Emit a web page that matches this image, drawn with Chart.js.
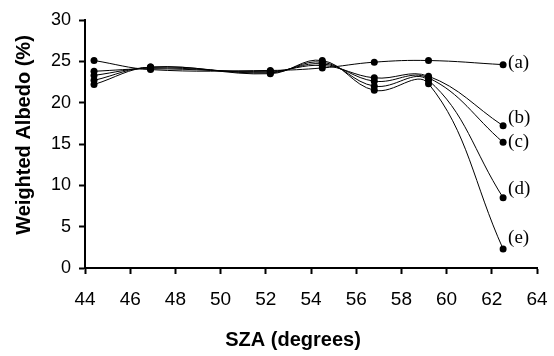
<!DOCTYPE html>
<html>
<head>
<meta charset="utf-8">
<title>Weighted Albedo vs SZA</title>
<script src="https://cdn.jsdelivr.net/npm/chart.js@4/dist/chart.umd.min.js"></script>
<style>
  html, body { margin: 0; padding: 0; background: #fff; }
  #wrap { width: 554px; height: 356px; }
</style>
</head>
<body>
<div id="wrap"><canvas id="chart" width="554" height="356"></canvas></div>
<script>
// SZA values (degrees)
const sza = [44.4, 46.9, 52.2, 54.5, 56.8, 59.2, 62.5];

// weighted albedo (%) for each case
const albedoA = [25.1, 24.0, 23.9, 24.2, 24.9, 25.1, 24.6];
const albedoB = [23.8, 24.1, 23.8, 24.5, 23.0, 23.2, 17.2];
const albedoC = [23.3, 24.2, 23.7, 24.7, 22.6, 23.0, 15.2];
const albedoD = [22.7, 24.3, 23.6, 24.9, 22.0, 22.7, 8.5];
const albedoE = [22.2, 24.3, 23.5, 25.1, 21.5, 22.3, 2.3];

const seriesLabels = ["(a)", "(b)", "(c)", "(d)", "(e)"];
const xTicks = [44, 46, 48, 50, 52, 54, 56, 58, 60, 62, 64];
const yTicks = [0, 5, 10, 15, 20, 25, 30];

const allSeries = [albedoA, albedoB, albedoC, albedoD, albedoE];

const sans = "'Liberation Sans', Arial, sans-serif";

// labels next to the last point of each curve
const endLabels = {
  id: "endLabels",
  afterDatasetsDraw(chart, args, opts) {
    const ctx = chart.ctx;
    ctx.save();
    ctx.font = "19px 'Liberation Serif', 'Times New Roman', serif";
    ctx.fillStyle = "#000";
    ctx.textBaseline = "middle";
    ctx.textAlign = "left";
    chart.data.datasets.forEach((ds, i) => {
      const pts = chart.getDatasetMeta(i).data;
      const last = pts[pts.length - 1];
      ctx.fillText(ds.label, last.x + 5, last.y + opts.dy[i]);
    });
    ctx.restore();
  }
};

// axis titles, placed a bit off-centre like the original
const axisTitles = {
  id: "axisTitles",
  afterDraw(chart, args, opts) {
    const ctx = chart.ctx;
    const area = chart.chartArea;
    ctx.save();
    ctx.font = "bold 20px " + sans;
    ctx.fillStyle = "#000";
    ctx.textAlign = "center";
    ctx.textBaseline = "middle";
    ctx.fillText(opts.x, (area.left + area.right) / 2 - 18, 340);
    ctx.translate(24, (area.top + area.bottom) / 2 - 9);
    ctx.rotate(-Math.PI / 2);
    ctx.fillText(opts.y, 0, 0);
    ctx.restore();
  }
};

const datasets = allSeries.map((vals, i) => ({
  label: seriesLabels[i],
  data: vals.map((v, j) => ({ x: sza[j], y: v })),
  showLine: true,
  borderColor: "#000",
  borderWidth: 1,
  backgroundColor: "#000",
  pointRadius: 3.5,
  pointBorderWidth: 0,
  tension: 0.4
}));

new Chart(document.getElementById("chart"), {
  type: "scatter",
  data: { datasets },
  options: {
    responsive: false,
    animation: false,
    layout: { padding: { top: 20, right: 0, left: 0, bottom: 0 } },
    plugins: {
      legend: { display: false },
      tooltip: { enabled: false },
      endLabels: { dy: [-2, -8, 0, -9, -11] },
      axisTitles: { x: "SZA (degrees)", y: "Weighted Albedo (%)" }
    },
    scales: {
      x: {
        type: "linear",
        min: 44,
        max: 64,
        afterBuildTicks: (s) => { s.ticks = xTicks.map((v) => ({ value: v })); },
        afterFit: (s) => {
          s.height = 88;
          s.paddingLeft = 0;
          s.paddingRight = 17;
        },
        ticks: { color: "#000", font: { family: sans, size: 19 }, padding: 14 },
        grid: { drawOnChartArea: false, tickLength: 6, tickWidth: 2, tickColor: "#000" },
        border: { color: "#000", width: 2 }
      },
      y: {
        min: 0,
        max: 30,
        afterBuildTicks: (s) => { s.ticks = yTicks.map((v) => ({ value: v })); },
        afterFit: (s) => { s.width = 85; },
        ticks: { color: "#000", font: { family: sans, size: 18 }, padding: 8 },
        grid: { drawOnChartArea: false, tickLength: 6, tickWidth: 2, tickColor: "#000" },
        border: { color: "#000", width: 2 }
      }
    }
  },
  plugins: [endLabels, axisTitles]
});
</script>
</body>
</html>
